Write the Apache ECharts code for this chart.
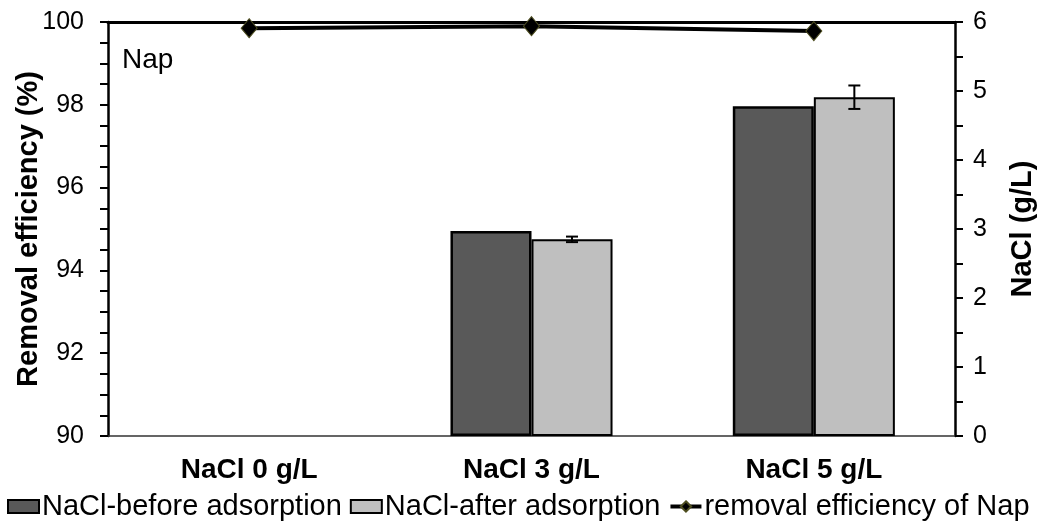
<!DOCTYPE html>
<html>
<head>
<meta charset="utf-8">
<script src="https://cdn.jsdelivr.net/npm/echarts@6/dist/echarts.min.js"></script>
<style>
  html, body { margin: 0; padding: 0; background: #fff; }
  #main { width: 1041px; height: 526px; }
</style>
</head>
<body>
<div id="main"></div>
<script>
    // categories and values
    var categories = ['NaCl 0 g/L', 'NaCl 3 g/L', 'NaCl 5 g/L'];
    var naclBefore = [0, 2.97, 4.78];
    var naclAfter = [0, 2.85, 4.91];
    var naclAfterErr = [0, 0.04, 0.17];
    var removalEff = [99.85, 99.90, 99.78];

    var chart = echarts.init(document.getElementById('main'));
    var font = 'Liberation Sans, Arial, sans-serif';
    var catGap = 0.426;

    var errData = naclAfter.map(function (v, i) {
        return [i, v - naclAfterErr[i], v + naclAfterErr[i]];
    });

    // zero bars are not visible in the figure
    function barData(arr) {
        return arr.map(function (v) {
            return v === 0 ? { value: 0, itemStyle: { borderWidth: 0 } } : v;
        });
    }

    var option = {
        animation: false,
        textStyle: { fontFamily: font, color: '#000' },
        grid: { left: 108, right: 86, top: 22, bottom: 90, containLabel: false, outerBoundsMode: 'none' },
        legend: {
            left: 2,
            bottom: 0,
            itemGap: 8,
            itemWidth: 31,
            itemHeight: 13,
            textStyle: { fontSize: 29, color: '#000', fontFamily: font, padding: [0, 0, 0, -2] },
            data: [
                { name: 'NaCl-before adsorption', icon: 'rect' },
                { name: 'NaCl-after adsorption', icon: 'rect' },
                { name: 'removal efficiency of Nap', lineStyle: { width: 4, color: '#000' } }
            ]
        },
        graphic: [{
            type: 'text',
            left: 122,
            top: 46,
            style: { text: 'Nap', font: '28px ' + font, fill: '#000' }
        }],
        xAxis: [{
            type: 'category',
            data: categories,
            axisLine: { lineStyle: { color: '#333', width: 1.5 } },
            axisTick: { show: false },
            axisLabel: { margin: 20, fontSize: 28, fontWeight: 'bold', color: '#000' }
        }, {
            type: 'category',
            position: 'top',
            data: categories,
            axisLine: { lineStyle: { color: '#000', width: 3 } },
            axisTick: { show: false },
            axisLabel: { show: false }
        }],
        yAxis: [{
            type: 'value',
            min: 90,
            max: 100,
            interval: 2,
            position: 'left',
            name: 'Removal efficiency (%)',
            nameLocation: 'middle',
            nameGap: 65,
            nameMoveOverlap: false,
            nameTextStyle: { fontSize: 29, fontWeight: 'bold', color: '#000' },
            axisLine: { show: true, lineStyle: { color: '#000', width: 2.5 } },
            axisTick: { show: true, inside: false, length: 8, lineStyle: { color: '#000', width: 2 } },
            minorTick: { show: true, splitNumber: 4, length: 8, lineStyle: { color: '#000', width: 2 } },
            axisLabel: { margin: 24, fontSize: 25, color: '#000' },
            splitLine: { show: false }
        }, {
            type: 'value',
            min: 0,
            max: 6,
            interval: 1,
            position: 'right',
            name: 'NaCl (g/L)',
            nameLocation: 'middle',
            nameGap: 53,
            nameMoveOverlap: false,
            nameTextStyle: { fontSize: 29, fontWeight: 'bold', color: '#000' },
            axisLine: { show: true, lineStyle: { color: '#000', width: 2.5 } },
            axisTick: { show: true, inside: false, length: 8, lineStyle: { color: '#000', width: 2 } },
            minorTick: { show: true, splitNumber: 2, length: 8, lineStyle: { color: '#000', width: 2 } },
            axisLabel: { margin: 18, fontSize: 25, color: '#000' },
            splitLine: { show: false }
        }],
        series: [{
            name: 'NaCl-before adsorption',
            type: 'bar',
            yAxisIndex: 1,
            barGap: '0%',
            barCategoryGap: (catGap * 100) + '%',
            itemStyle: { color: '#595959', borderColor: '#000', borderWidth: 2.5 },
            data: barData(naclBefore)
        }, {
            name: 'NaCl-after adsorption',
            type: 'bar',
            yAxisIndex: 1,
            barGap: '0%',
            barCategoryGap: (catGap * 100) + '%',
            itemStyle: { color: '#BFBFBF', borderColor: '#000', borderWidth: 2 },
            data: barData(naclAfter)
        }, {
            name: 'err',
            type: 'custom',
            yAxisIndex: 1,
            z: 5,
            renderItem: function (params, api) {
                var idx = api.value(0);
                var lo = api.coord([idx, api.value(1)]);
                var hi = api.coord([idx, api.value(2)]);
                var band = api.size([1, 0])[0];
                var barW = band * (1 - catGap) / 2;
                var x = lo[0] + barW / 2;
                var cap = 6;
                var style = { stroke: '#000', lineWidth: 2 };
                return {
                    type: 'group',
                    children: [
                        { type: 'line', shape: { x1: x, y1: hi[1], x2: x, y2: lo[1] }, style: style },
                        { type: 'line', shape: { x1: x - cap, y1: hi[1], x2: x + cap, y2: hi[1] }, style: style },
                        { type: 'line', shape: { x1: x - cap, y1: lo[1], x2: x + cap, y2: lo[1] }, style: style }
                    ]
                };
            },
            data: errData.filter(function (d) { return d[2] > d[1]; })
        }, {
            name: 'removal efficiency of Nap',
            type: 'line',
            yAxisIndex: 0,
            z: 10,
            symbol: 'diamond',
            symbolSize: [16, 19],
            lineStyle: { color: '#000', width: 4 },
            itemStyle: { color: '#000', borderColor: '#4d4d1f', borderWidth: 1 },
            data: removalEff
        }]
    };

    chart.setOption(option);
</script>
</body>
</html>
